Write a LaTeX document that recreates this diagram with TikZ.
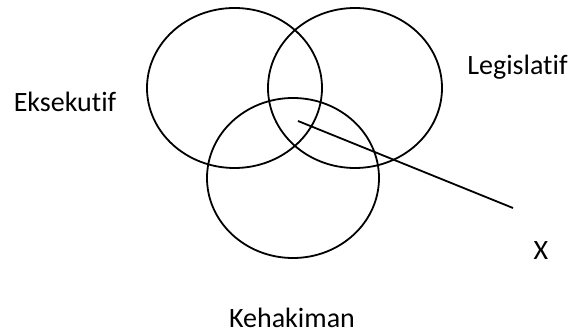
\documentclass[tikz,border=0pt]{standalone}
\usepackage{fontspec}
\setmainfont{Carlito}[Ligatures=NoCommon]
\usetikzlibrary{positioning, shapes.geometric}

\begin{document}
\begin{tikzpicture}[x=1pt, y=-1pt, set/.style={draw, ellipse, line width=1.8pt, inner sep=0pt, minimum width=175pt, minimum height=160pt}, lbl/.style={anchor=base, inner sep=0pt, font=\fontsize{28}{30}\selectfont}]
\useasboundingbox (0,0) rectangle (578,336);
\node[set] (eks) at (234.5,88) {};
\node[set, minimum width=174pt] (leg) at (355,88) {};
\node[set, minimum width=172pt] (keh) at (293,178) {};
\node[lbl] (eksLbl) at (65,112) {Eksekutif};
\node[lbl] (legLbl) at (517.5,75) {Legislatif};
\node[lbl] (kehLbl) at (292,327) {Kehakiman};
\node[lbl] (xLbl) at (541,260) {X};
\coordinate (ptr) at (298,121); \coordinate (ptrEnd) at (513,208);
\draw[line width=1.8pt] (ptr) -- (ptrEnd);
\end{tikzpicture}
\end{document}
